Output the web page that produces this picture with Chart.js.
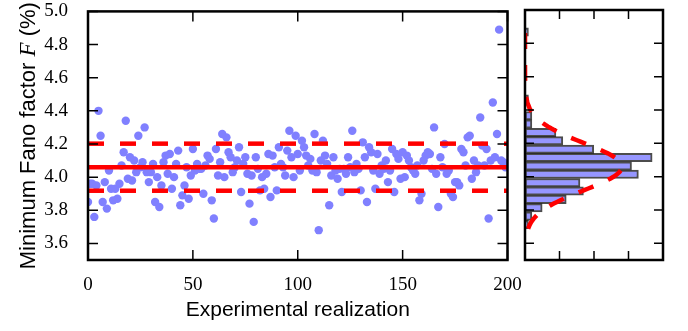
<!DOCTYPE html>
<html><head><meta charset="utf-8">
<script src="https://cdn.jsdelivr.net/npm/chart.js@4/dist/chart.umd.min.js"></script>
<style>
html,body{margin:0;padding:0;background:#fff;}
#wrap{position:relative;width:688px;height:331px;overflow:hidden;background:#fff;}
#main{position:absolute;left:0;top:0;}
#hist{position:absolute;left:515px;top:0;}
</style></head><body>
<div id="wrap"><canvas id="main" width="688" height="331"></canvas><canvas id="hist" width="173" height="331"></canvas></div>
<script>
// ---- data ----
const fanoValues = [
3.85,3.96,3.96,3.76,3.95,4.40,4.25,3.85,3.97,3.81,
4.04,3.93,3.86,3.93,3.87,3.96,4.07,4.15,4.34,3.99,
4.12,3.98,4.10,4.03,4.25,4.06,4.09,4.30,4.03,3.97,
4.03,4.08,3.85,4.00,3.82,3.95,4.09,4.13,4.02,4.14,
3.93,4.00,4.08,4.16,3.83,3.89,3.95,4.06,3.87,4.01,
4.17,4.04,4.08,4.05,4.05,3.90,4.07,4.13,4.11,3.86,
3.75,4.17,4.01,4.09,4.26,4.00,4.24,4.15,4.12,4.03,
4.06,4.10,4.18,3.91,4.08,4.12,4.02,3.84,4.01,3.73,
4.12,4.05,3.92,4.00,3.93,4.02,4.14,3.88,4.13,4.06,
3.92,4.18,4.08,4.06,4.01,4.16,4.28,4.12,4.00,4.25,
4.14,4.04,4.22,4.18,4.13,4.07,4.11,4.04,4.26,4.03,
3.68,4.10,4.22,4.13,4.08,3.83,4.01,4.12,4.04,3.99,
4.05,3.91,4.05,4.02,4.12,4.06,4.28,4.03,4.08,4.05,
3.92,4.21,4.12,3.85,4.18,4.15,4.04,3.93,4.14,4.02,
4.07,4.05,4.10,3.97,4.04,4.17,3.91,4.14,4.11,3.99,
4.15,4.00,4.13,4.10,4.06,4.04,4.02,4.07,3.86,3.90,
4.10,4.13,4.15,4.14,4.05,4.30,4.02,3.82,4.12,4.06,
4.20,4.02,4.04,3.90,3.88,3.97,3.97,3.95,4.17,4.15,
4.07,4.24,4.25,3.99,4.10,4.03,4.07,4.36,4.19,4.07,
4.17,3.75,4.10,4.45,4.12,4.26,4.89,4.10,4.09,4.06
];
const fitMean = 4.06;
const fitSigma = 0.142;
const xTicks = [0, 50, 100, 150, 200];
const yTicks = [3.6, 3.8, 4.0, 4.2, 4.4, 4.6, 4.8, 5.0];
const histBinStart = 3.688;
const histBinWidth = 0.0502;
const histCounts = [1,2,5,12,17,16,33,31,37,20,11,9,2,2,0,1,0,0,0,0,0,0,0,1];
const histTicks = [0, 0.5, 1.0, 1.5, 2.0, 2.5, 3.0, 3.5, 4.0];

const RED = '#ff0000';
const DOT = 'rgb(128,128,255)';

const frameTicks = {
  id: 'frameTicks',
  afterDatasetsDraw(chart, args, opts) {
    const {ctx, chartArea: {left, right, top, bottom}, scales: {x, y}} = chart;
    ctx.save();
    ctx.strokeStyle = '#000';
    ctx.lineWidth = opts.tickWidth;
    ctx.beginPath();
    x.ticks.forEach(t => {
      const px = x.getPixelForValue(t.value);
      ctx.moveTo(px, bottom); ctx.lineTo(px, bottom - opts.len);
      ctx.moveTo(px, top); ctx.lineTo(px, top + opts.len);
    });
    y.ticks.forEach(t => {
      const py = y.getPixelForValue(t.value);
      ctx.moveTo(left, py); ctx.lineTo(left + opts.len, py);
      ctx.moveTo(right, py); ctx.lineTo(right - opts.len, py);
    });
    ctx.stroke();
    ctx.lineWidth = opts.frameWidth;
    ctx.strokeRect(left, top, right - left, bottom - top);
    ctx.restore();
  }
};

const yTitle = {
  id: 'yTitle',
  afterDraw(chart) {
    const ctx = chart.ctx;
    const area = chart.chartArea;
    const parts = [
      {t: 'Minimum Fano factor ', f: '22px "Liberation Sans"'},
      {t: 'F', f: 'italic 23px "Liberation Serif"'},
      {t: ' (%)', f: '22px "Liberation Sans"'}
    ];
    ctx.save();
    ctx.fillStyle = '#000';
    ctx.textBaseline = 'alphabetic';
    ctx.textAlign = 'left';
    let total = 0;
    parts.forEach(p => { ctx.font = p.f; p.w = ctx.measureText(p.t).width; total += p.w; });
    ctx.translate(35, (area.top + area.bottom) / 2);
    ctx.rotate(-Math.PI / 2);
    let cx = -total / 2;
    parts.forEach(p => { ctx.font = p.f; ctx.fillText(p.t, cx, 0); cx += p.w; });
    ctx.restore();
  }
};

const scatterData = fanoValues.map((v, i) => ({x: i, y: v}));
const xMin = xTicks[0], xMax = xTicks[xTicks.length - 1];
const hLine = (val) => [{x: xMin, y: val}, {x: xMax, y: val}];
const hiddenTickGrid = (len) => ({display: true, drawOnChartArea: false, drawTicks: true, tickLength: len, tickColor: 'rgba(0,0,0,0)', color: 'rgba(0,0,0,0)'});

new Chart(document.getElementById('main'), {
  type: 'scatter',
  data: {
    datasets: [
      {type: 'line', data: hLine(fitMean), borderColor: RED, borderWidth: 4.5, pointRadius: 0, order: 0},
      {type: 'line', data: hLine(fitMean + fitSigma), borderColor: RED, borderWidth: 4.5, borderDash: [16, 16], pointRadius: 0, order: 0},
      {type: 'line', data: hLine(fitMean - fitSigma), borderColor: RED, borderWidth: 4.5, borderDash: [16, 16], pointRadius: 0, order: 0},
      {type: 'scatter', data: scatterData, backgroundColor: DOT, borderWidth: 0, pointRadius: 4.2, order: 2}
    ]
  },
  options: {
    responsive: false, animation: false,
    layout: {autoPadding: false, padding: {left: 0, right: 180.5, top: 10, bottom: 0}},
    plugins: {legend: {display: false}, tooltip: {enabled: false},
      frameTicks: {len: 10, tickWidth: 1.5, frameWidth: 2.5}},
    scales: {
      x: {type: 'linear', min: xMin, max: xMax, offset: false,
        afterBuildTicks: s => { s.ticks = xTicks.map(v => ({value: v})); },
        afterFit: s => { s.height = 71; },
        grid: hiddenTickGrid(14), border: {display: false},
        ticks: {color: '#000', padding: 0, maxRotation: 0, font: {family: 'Liberation Serif', size: 19}},
        title: {display: true, text: 'Experimental realization', color: '#000',
          font: {family: 'Liberation Sans', size: 21}, padding: {top: 0, bottom: 8}}
      },
      y: {type: 'linear', min: 3.5, max: 5.0, offset: false,
        afterBuildTicks: s => { s.ticks = yTicks.map(v => ({value: v})); },
        afterFit: s => { s.width = 88; },
        grid: hiddenTickGrid(20), border: {display: false},
        ticks: {color: '#000', padding: 0, font: {family: 'Liberation Serif', size: 19},
          callback: v => Number(v).toFixed(1)}
      }
    }
  },
  plugins: [frameTicks, yTitle]
});

// histogram panel
const nTotal = histCounts.reduce((a, b) => a + b, 0);
const histData = histCounts.map((c, i) => ({x: c / (nTotal * histBinWidth), y: histBinStart + (i + 0.5) * histBinWidth}));
const histEnd = histBinStart + histCounts.length * histBinWidth;
const gaussData = [];
for (let k = 0; k <= 120; k++) {
  const yv = histBinStart + (histEnd - histBinStart) * k / 120;
  gaussData.push({x: Math.exp(-0.5 * Math.pow((yv - fitMean) / fitSigma, 2)) / (fitSigma * Math.sqrt(2 * Math.PI)), y: yv});
}

new Chart(document.getElementById('hist'), {
  type: 'bar',
  data: {
    datasets: [
      {type: 'line', data: gaussData, borderColor: RED, borderWidth: 4.5, borderDash: [16, 16], pointRadius: 0, order: 0, tension: 0},
      {type: 'bar', indexAxis: 'y', data: histData, backgroundColor: 'rgb(150,150,255)', borderColor: 'rgba(0,0,0,0.7)',
        borderWidth: 2, borderSkipped: false, barPercentage: 1, categoryPercentage: 1, order: 1}
    ]
  },
  options: {
    responsive: false, animation: false,
    layout: {autoPadding: false, padding: {left: 10, right: 25, top: 10, bottom: 71}},
    plugins: {legend: {display: false}, tooltip: {enabled: false},
      frameTicks: {len: 9, tickWidth: 1.5, frameWidth: 2.5}},
    scales: {
      x: {type: 'linear', min: histTicks[0], max: histTicks[histTicks.length - 1], display: false, offset: false,
        afterBuildTicks: s => { s.ticks = histTicks.map(v => ({value: v})); }},
      y: {type: 'linear', min: 3.5, max: 5.0, display: false, offset: false,
        afterBuildTicks: s => { s.ticks = yTicks.map(v => ({value: v})); }}
    }
  },
  plugins: [frameTicks]
});
</script>
</body></html>
